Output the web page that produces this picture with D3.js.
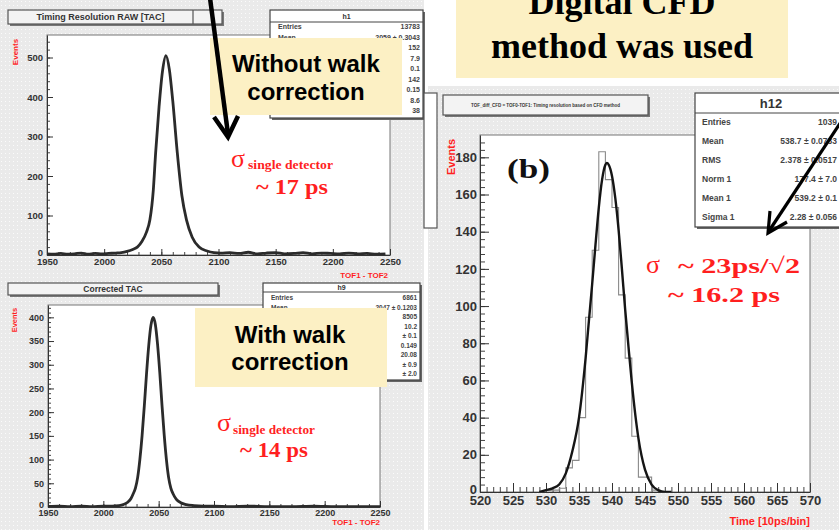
<!DOCTYPE html>
<html><head><meta charset="utf-8">
<script src="https://cdn.jsdelivr.net/npm/d3@7"></script>
<style>body{margin:0;background:#fff} svg{display:block}</style>
</head><body>
<script>
// ---------------- DATA ----------------
// Panel (a) top: Timing Resolution RAW [TAC]
const p1X = [1950,1956,1962,1968,1974,1980,1986,1992,1998,2004,2010,2015,2020,2025,2029,2033,2037,2040,2043,2045,2048,2051,2054,2057,2060,2064,2068,2072,2077,2083,2090,2096,2102,2110,2118,2126,2134,2142,2150,2158,2166,2174,2182,2190,2198,2206,2214,2222,2230,2238,2246];
const p1Y = [3,2,4,2,3,5,2,4,3,4,5,6,9,14,20,34,58,89,165,258,375,465,505,470,390,258,150,89,45,20,10,6,5,6,4,7,3,5,6,3,4,6,3,5,4,3,5,3,4,2,3];
const p1XTicks = [1950,2000,2050,2100,2150,2200,2250];
const p1YTicks = [0,100,200,300,400,500];
// Panel (a) bottom: Corrected TAC
const p2X = [1950,1960,1970,1980,1990,2000,2008,2014,2018,2022,2025,2027,2029,2031,2033,2035,2037,2039,2041,2043,2045,2047,2049,2051,2053,2055,2057,2059,2061,2063,2066,2070,2075,2082,2090,2100,2115,2130,2150,2170,2190,2210,2230,2250];
const p2Y = [1,2,1,2,1,2,2,3,5,10,18,28,40,62,100,150,212,280,340,383,400,385,343,284,215,152,100,62,40,28,16,9,5,3,2,2,1,2,1,1,2,1,1,1];
const p2XTicks = [1950,2000,2050,2100,2150,2200,2250];
const p2YTicks = [0,50,100,150,200,250,300,350,400];
// Panel (b): digital CFD
const p3BinX = [530,531,532,533,534,535,536,537,538,539,540,541,542,543,544,545,546];
const p3BinY = [1,1,2,13,17,40,94,130,183,168,153,106,72,30,8,8,1];
const p3FitX = [529,530,531,532,533,534,535,536,536.5,537,537.5,538,538.5,539,539.2,539.5,540,540.5,541,541.5,542,542.5,543,544,545,546,547,548,549];
const p3FitY = [0,1,2,4,10,22,40,72,92,112,133,153,168,176,177,176,170,158,141,120,98,78,59,29,12,4,1,0,0];
const p3XTicks = [520,525,530,535,540,545,550,555,560,565,570];
const p3YTicks = [0,20,40,60,80,100,120,140,160,180];
// Stats boxes
const h1Rows = [["Entries","13783"],["Mean","2059 ± 0.3043"],["","152"],["","7.9"],["","0.1"],["","142"],["","0.15"],["","8.6"],["","38"]];
const h9Rows = [["Entries","6861"],["Mean","2047 ± 0.1203"],["","8505"],["","10.2"],["","± 0.1"],["","0.149"],["","20.08"],["","± 0.9"],["","± 2.0"]];
const h12Rows = [["Entries","1039"],["Mean","538.7 ± 0.0733"],["RMS","2.378 ± 0.0517"],["Norm 1","177.4 ± 7.0"],["Mean 1","539.2 ± 0.1"],["Sigma 1","2.28 ± 0.056"]];

// ---------------- DRAW ----------------
const SANS = "'Liberation Sans', Arial, Helvetica, sans-serif";
const SERIF = "'Liberation Serif', 'Times New Roman', serif";
const RED = "#ff1f1f";
const YEL = "#fcf0c4";

const svg = d3.select("body").append("svg").attr("width",839).attr("height",530);
const defs = svg.append("defs");
const pat = defs.append("pattern").attr("id","dots").attr("width",4).attr("height",4).attr("patternUnits","userSpaceOnUse");
pat.append("rect").attr("width",4).attr("height",4).attr("fill","#eaeaea");
pat.append("rect").attr("x",1).attr("y",1).attr("width",1).attr("height",1).attr("fill","#fbfbfb");

// canvas backgrounds
svg.append("rect").attr("x",0).attr("y",0).attr("width",424).attr("height",530).attr("fill","url(#dots)");
svg.append("rect").attr("x",428).attr("y",86).attr("width",411).attr("height",444).attr("fill","url(#dots)");

function styleAxis(sel, fs){
  sel.select(".domain").attr("stroke","#333").attr("stroke-width",1);
  sel.selectAll("line").attr("stroke","#333");
  sel.selectAll("text").attr("font-family",SANS).attr("font-weight","bold").attr("font-size",fs).attr("fill","#333");
}

function makePanel(cfg){
  const g = svg.append("g");
  const x = d3.scaleLinear().domain(cfg.xDomain).range([cfg.left,cfg.right]);
  const y = d3.scaleLinear().domain(cfg.yDomain).range([cfg.bottom,cfg.top]);
  g.append("rect").attr("x",cfg.left).attr("y",cfg.top).attr("width",cfg.right-cfg.left).attr("height",cfg.bottom-cfg.top)
    .attr("fill","#fff").attr("stroke","#777").attr("stroke-width",1);
  // minor ticks
  g.append("g").attr("transform",`translate(0,${cfg.bottom})`)
    .call(d3.axisBottom(x).tickValues(cfg.xMinor).tickFormat("").tickSizeInner(-cfg.minorLen).tickSizeOuter(0))
    .call(s=>{s.select(".domain").remove(); s.selectAll("line").attr("stroke","#444");});
  g.append("g").attr("transform",`translate(${cfg.left},0)`)
    .call(d3.axisLeft(y).tickValues(cfg.yMinor).tickFormat("").tickSizeInner(-cfg.minorLen).tickSizeOuter(0))
    .call(s=>{s.select(".domain").remove(); s.selectAll("line").attr("stroke","#444");});
  // major axes
  g.append("g").attr("transform",`translate(0,${cfg.bottom})`)
    .call(d3.axisBottom(x).tickValues(cfg.xTicks).tickFormat(d3.format("d")).tickSizeInner(-cfg.majorLen).tickSizeOuter(0).tickPadding(cfg.xPad))
    .call(s=>styleAxis(s,cfg.fs));
  g.append("g").attr("transform",`translate(${cfg.left},0)`)
    .call(d3.axisLeft(y).tickValues(cfg.yTicks).tickFormat(d3.format("d")).tickSizeInner(-cfg.majorLen).tickSizeOuter(0).tickPadding(cfg.yPad))
    .call(s=>{styleAxis(s,cfg.fs); s.selectAll(".tick text").filter(d=>d===0).attr("dy","0.1em");});
  const clipId = "clip"+cfg.id;
  defs.append("clipPath").attr("id",clipId).append("rect")
    .attr("x",cfg.left).attr("y",cfg.top-2).attr("width",cfg.right-cfg.left).attr("height",cfg.bottom-cfg.top+2);
  const plot = svg.append("g").attr("clip-path",`url(#${clipId})`);
  return {x,y,plot};
}

function titleBox(x,y,w,h,txt,fs,div){
  svg.append("rect").attr("x",x+2).attr("y",y+2).attr("width",w).attr("height",h).attr("fill","#777");
  svg.append("rect").attr("x",x).attr("y",y).attr("width",w).attr("height",h).attr("fill","#f3f3f3").attr("stroke","#555").attr("stroke-width",1.2);
  if(div) svg.append("line").attr("x1",div).attr("x2",div).attr("y1",y).attr("y2",y+h).attr("stroke","#555").attr("stroke-width",1.2);
  svg.append("text").attr("x",x+(div?div-x:w)/2).attr("y",y+h/2).attr("dy","0.36em").attr("text-anchor","middle")
    .attr("font-family",SANS).attr("font-weight","bold").attr("font-size",fs).attr("fill","#333").text(txt);
}

function statsBox(x,y,w,h,name,rows,o){
  svg.append("rect").attr("x",x+2).attr("y",y+2).attr("width",w).attr("height",h).attr("fill","#666");
  svg.append("rect").attr("x",x).attr("y",y).attr("width",w).attr("height",h).attr("fill","#fff").attr("stroke","#444").attr("stroke-width",1.2);
  svg.append("line").attr("x1",x).attr("x2",x+w).attr("y1",y+o.head).attr("y2",y+o.head).attr("stroke","#444");
  svg.append("text").attr("x",x+w/2).attr("y",y+o.head-o.headPad).attr("text-anchor","middle")
    .attr("font-family",SANS).attr("font-weight","bold").attr("font-size",o.headFs).attr("fill","#333").text(name);
  rows.forEach((r,i)=>{
    const yy = y+o.first+i*o.step;
    svg.append("text").attr("x",x+o.lx).attr("y",yy).attr("font-family",SANS).attr("font-weight","bold")
      .attr("font-size",o.fs).attr("fill","#444").text(r[0]);
    svg.append("text").attr("x",o.rx).attr("y",yy).attr("text-anchor","end").attr("font-family",SANS).attr("font-weight","bold")
      .attr("font-size",o.fs).attr("fill","#444").text(r[1]);
  });
}

function label(x,y,txt,fs,opts={}){
  const t = svg.append("text").attr("x",x).attr("y",y).attr("font-family",opts.font||SANS).attr("font-weight",opts.weight||"bold")
    .attr("font-size",fs).attr("fill",opts.fill||RED).attr("text-anchor",opts.anchor||"start").text(txt);
  if(opts.rotate) t.attr("transform",`rotate(-90,${x},${y})`);
  if(opts.len) t.attr("textLength",opts.len).attr("lengthAdjust","spacingAndGlyphs");
  return t;
}

// ---- Panel 1 ----
const P1 = makePanel({id:1,left:47,right:390,top:35,bottom:255,xDomain:[1950,2250],yDomain:[0,557],
  xTicks:p1XTicks,yTicks:p1YTicks,xMinor:d3.range(1950,2251,10),yMinor:d3.range(0,557,20),
  majorLen:6,minorLen:3,xPad:3,yPad:4,fs:9.5});
P1.plot.append("path").datum(d3.zip(p1X,p1Y)).attr("fill","none").attr("stroke","#2b2b2b").attr("stroke-width",2.8)
  .attr("stroke-linejoin","round")
  .attr("d",d3.line().x(d=>P1.x(d[0])).y(d=>P1.y(d[1])).curve(d3.curveMonotoneX));
titleBox(8,10,214,14,"Timing Resolution RAW [TAC]",9,193);
statsBox(270,10,153,108,"h1",h1Rows,{head:12,headPad:3,headFs:7,first:19,step:10.5,lx:8,rx:420,fs:7});
label(18,52,"Events",8,{rotate:true,anchor:"middle"});
label(388,278,"TOF1 - TOF2",8,{anchor:"end"});

// ---- Panel 2 ----
const P2 = makePanel({id:2,left:48,right:380,top:305,bottom:507,xDomain:[1950,2250],yDomain:[0,426],
  xTicks:p2XTicks,yTicks:p2YTicks,xMinor:d3.range(1950,2251,10),yMinor:d3.range(0,426,10),
  majorLen:6,minorLen:3,xPad:3,yPad:4,fs:9});
P2.plot.append("path").datum(d3.zip(p2X,p2Y)).attr("fill","none").attr("stroke","#2b2b2b").attr("stroke-width",2.8)
  .attr("stroke-linejoin","round")
  .attr("d",d3.line().x(d=>P2.x(d[0])).y(d=>P2.y(d[1])).curve(d3.curveMonotoneX));
titleBox(8,283,210,12,"Corrected TAC",8.5,null);
statsBox(263,283,157,97,"h9",h9Rows,{head:9,headPad:2,headFs:7,first:17,step:9.5,lx:8,rx:417,fs:6.5});
label(17,320,"Events",7.5,{rotate:true,anchor:"middle"});
label(380,525,"TOF1 - TOF2",8,{anchor:"end"});

// ---- Panel 3 ----
svg.append("rect").attr("x",424).attr("y",93).attr("width",13).attr("height",135).attr("fill","#fff").attr("stroke","#555").attr("stroke-width",1.2);
const P3 = makePanel({id:3,left:480,right:810,top:135,bottom:492,xDomain:[520,570],yDomain:[0,192],
  xTicks:p3XTicks,yTicks:p3YTicks,xMinor:d3.range(520,571,1),yMinor:d3.range(0,192,4),
  majorLen:9,minorLen:5,xPad:4,yPad:3,fs:13});
const histPts = p3BinX.map((b,i)=>[b,p3BinY[i]]);
histPts.push([p3BinX[p3BinX.length-1]+1,0]);
P3.plot.append("path").datum([[p3BinX[0],0]].concat(histPts)).attr("fill","none").attr("stroke","#8a8a8a").attr("stroke-width",1.1)
  .attr("d",d3.line().x(d=>P3.x(d[0])).y(d=>P3.y(d[1])).curve(d3.curveStepAfter));
P3.plot.append("path").datum(d3.zip(p3FitX,p3FitY)).attr("fill","none").attr("stroke","#151515").attr("stroke-width",2.4)
  .attr("d",d3.line().x(d=>P3.x(d[0])).y(d=>P3.y(d[1])).curve(d3.curveMonotoneX));
titleBox(443,95,205,20,"TOF_diff_CFD = TOF0-TOF1: Timing resolution based on CFD method",4.5,null);
statsBox(695,93,152,134,"h12",h12Rows,{head:20,headPad:5,headFs:13,first:32,step:19,lx:7,rx:837,fs:8.5});
label(455,157,"Events",11,{rotate:true,anchor:"middle"});
label(810,525,"Time [10ps/bin]",11,{anchor:"end"});
label(507,178,"(b)",27,{font:SERIF,fill:"#111",len:43});

// red annotations
label(231,167,"σ",26,{font:SERIF,weight:"normal"});
label(248,169,"single detector",12,{font:SERIF,len:85});
label(256,194,"~ 17 ps",21,{font:SERIF,len:72});
label(217,431,"σ",26,{font:SERIF,weight:"normal"});
label(233,434,"single detector",12,{font:SERIF,len:82});
label(240,457,"~ 14 ps",21,{font:SERIF,len:68});
label(646,273,"σ",26,{font:SERIF,weight:"normal"});
label(678,273,"~ 23ps/√2",22,{font:SERIF,len:122});
label(668,302,"~ 16.2 ps",22,{font:SERIF,len:112});

// yellow callouts
function callout(x,y,w,h,lines,cx,bases,fs,font){
  svg.append("rect").attr("x",x).attr("y",y).attr("width",w).attr("height",h).attr("fill",YEL);
  lines.forEach((l,i)=>label(cx,bases[i],l,fs,{font:font,fill:"#000",anchor:"middle"}));
}
callout(210,38,192,77,["Without walk","correction"],306,[72,100],24,SANS);
callout(195,308,192,79,["With walk","correction"],290,[343,370],24,SANS);
callout(456,-2,332,80,["Digital CFD","method was used"],622,[14,58],36,SERIF);

// arrows
svg.append("line").attr("x1",210).attr("y1",-2).attr("x2",228).attr("y2",134).attr("stroke","#000").attr("stroke-width",4.5);
svg.append("path").attr("d","M214,117 L228,137 L238,116").attr("fill","none").attr("stroke","#000").attr("stroke-width",4.5);
svg.append("line").attr("x1",862).attr("y1",90).attr("x2",769).attr("y2",231).attr("stroke","#000").attr("stroke-width",3.2);
svg.append("path").attr("d","M787,222 L768,233 L770,211").attr("fill","none").attr("stroke","#000").attr("stroke-width",3.2);
</script>
</body></html>
